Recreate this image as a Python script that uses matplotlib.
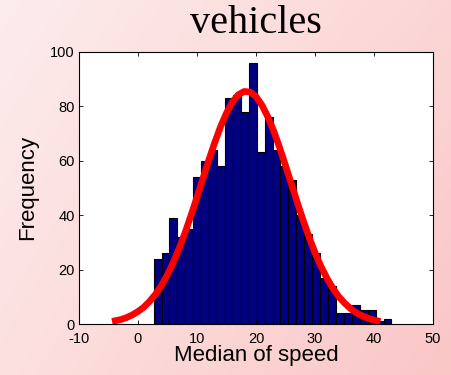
import numpy as np
import matplotlib
matplotlib.use("Agg")
import matplotlib.pyplot as plt

plt.rcParams["axes.unicode_minus"] = False

# Histogram data (30 bins)
bin_start = 2.64
bin_width = 1.344
counts = [24, 26, 39, 32, 35, 54, 60, 64, 58, 83, 84, 78, 96, 63, 76,
          64, 58, 53, 40, 33, 26, 17, 14, 4, 4, 7, 5, 5, 1, 2]

# Fitted curve points
curve_x = [-4.4, -3, -2, -1, 0, 1, 2, 3, 4, 5, 6, 7, 8, 9, 10, 11, 12, 13, 14,
           15, 16, 17, 18, 19, 20, 21, 22, 23, 24, 25, 26, 27, 28, 29, 30,
           31, 32, 33, 34, 35, 36, 37, 38, 39, 40, 41.1]
curve_y = [0.95, 1.6, 2.3, 3.3, 4.6, 6.2, 8.4, 11.0, 14.2, 18.1, 22.7, 27.9,
           33.7, 40.0, 46.6, 53.4, 60.2, 66.6, 72.5, 77.5, 81.5, 84.2, 85.4,
           85.2, 83.5, 80.4, 76.1, 70.9, 64.8, 58.2, 51.4, 44.6, 38.0, 31.9,
           26.2, 21.2, 16.9, 13.2, 10.1, 7.7, 5.7, 4.1, 3.0, 2.1, 1.4, 0.95]

xticks = [-10, 0, 10, 20, 30, 40, 50]
yticks = [0, 20, 40, 60, 80, 100]

fig = plt.figure(figsize=(4.52, 3.75), dpi=100)

# gradient background
bg = fig.add_axes([0, 0, 1, 1], zorder=-10)
bg.set_axis_off()
tl = np.array([253, 236, 236]) / 255
tr = np.array([252, 214, 214]) / 255
bl = np.array([253, 224, 224]) / 255
br = np.array([250, 198, 198]) / 255
u = np.linspace(0, 1, 200)[None, :, None]
v = np.linspace(0, 1, 200)[:, None, None]
img = (1 - v) * ((1 - u) * tl + u * tr) + v * ((1 - u) * bl + u * br)
bg.imshow(img, aspect="auto", extent=[0, 1, 0, 1], origin="upper")

ax = fig.add_axes([79 / 452, 1 - 324 / 375, (433 - 79) / 452, (324 - 51.7) / 375])
ax.set_facecolor("white")
lefts = [bin_start + i * bin_width for i in range(len(counts))]
ax.bar(lefts, counts, width=bin_width, align="edge", color="#000080",
       edgecolor="black", linewidth=0.8)
ax.plot(curve_x, curve_y, color="red", linewidth=4.8, solid_capstyle="butt")

ax.set_xlim(-10, 50)
ax.set_ylim(0, 100)
ax.set_xticks(xticks)
ax.set_yticks(yticks)
ax.tick_params(direction="in", top=True, right=True, length=3, width=0.6,
               labelsize=10.5)
ax.tick_params(axis="x", pad=6)
ax.tick_params(axis="y", pad=3)
for lab in ax.get_xticklabels() + ax.get_yticklabels():
    lab.set_family("Liberation Sans")
for s in ax.spines.values():
    s.set_linewidth(0.8)

ax.set_xlabel("Median of speed", fontsize=16, family="Liberation Sans", labelpad=-1)
ax.set_ylabel("Frequency", fontsize=16, family="Liberation Sans", labelpad=9)
fig.text(256 / 452, 1 - 33 / 375, "vehicles", fontsize=29, family="Liberation Serif",
         ha="center", va="baseline")

fig.savefig("out.png", dpi=100)
